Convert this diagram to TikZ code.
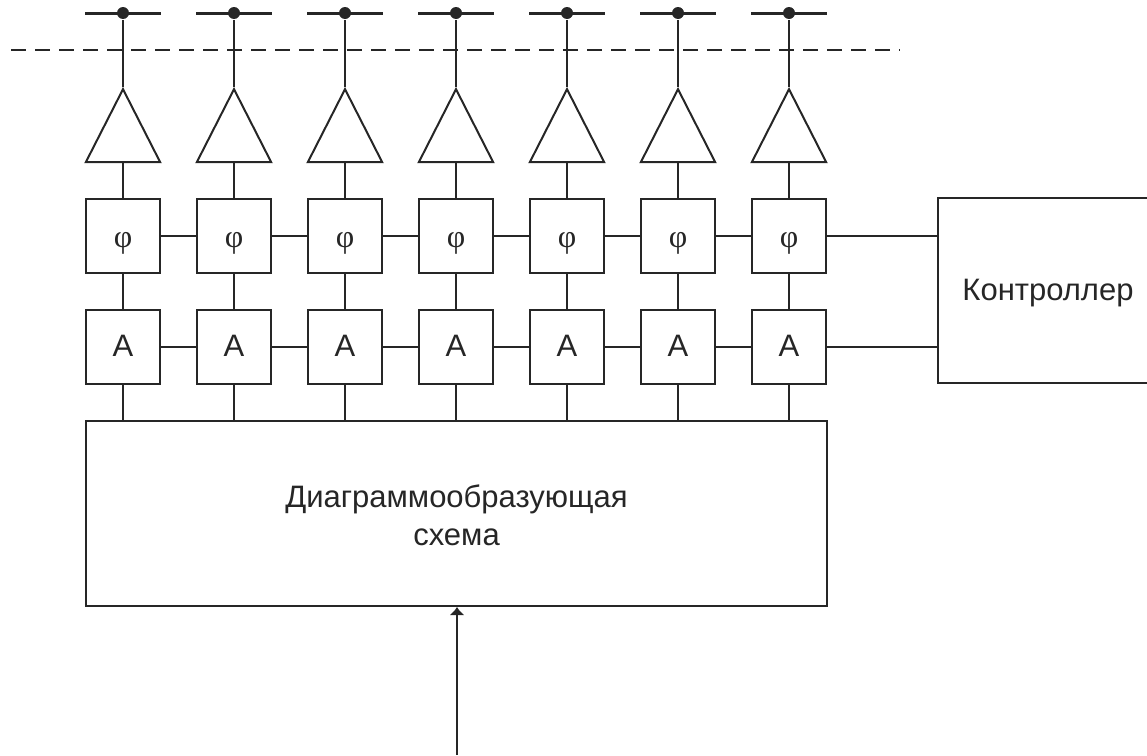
\documentclass[tikz,border=0pt]{standalone}
\usepackage{fontspec}
\setmainfont{Liberation Sans}
\newfontfamily\phifont{Liberation Serif}
\usetikzlibrary{shapes.geometric,arrows.meta}
\begin{document}
\begin{tikzpicture}
[x=1pt,y=-1pt,line width=2pt,color=black!85,inner sep=0pt,
 cell/.style={shape=rectangle,draw,minimum size=74pt,font=\fontsize{31}{31}\selectfont,text height=19pt,text depth=0pt},
 phase/.style={cell,font=\fontsize{32}{32}\phifont,text height=23pt},
 amp/.style={shape=isosceles triangle,draw,shape border rotate=90,isosceles triangle apex angle=54,
   minimum height=73pt,anchor=apex},
 bar/.style={shape=rectangle,fill,minimum width=76pt,minimum height=3pt},
 dot/.style={shape=circle,fill,minimum size=12pt},
 block/.style={shape=rectangle,draw,align=center,font=\fontsize{31}{38}\selectfont}]
\useasboundingbox (0,0) rectangle (1147,755);
\path (123,13) node (b1) [bar] {} node (d1) [dot] {}
(234,13) node (b2) [bar] {} node (d2) [dot] {}
(345,13) node (b3) [bar] {} node (d3) [dot] {}
(456,13) node (b4) [bar] {} node (d4) [dot] {}
(567,13) node (b5) [bar] {} node (d5) [dot] {}
(678,13) node (b6) [bar] {} node (d6) [dot] {}
(789,13) node (b7) [bar] {} node (d7) [dot] {};
\path (123,87) node (t1) [amp] {}
(234,87) node (t2) [amp] {}
(345,87) node (t3) [amp] {}
(456,87) node (t4) [amp] {}
(567,87) node (t5) [amp] {}
(678,87) node (t6) [amp] {}
(789,87) node (t7) [amp] {};
\path (123,235.5) node (p1) [phase] {φ}
(234,235.5) node (p2) [phase] {φ}
(345,235.5) node (p3) [phase] {φ}
(456,235.5) node (p4) [phase] {φ}
(567,235.5) node (p5) [phase] {φ}
(678,235.5) node (p6) [phase] {φ}
(789,235.5) node (p7) [phase] {φ};
\path (123,346.5) node (a1) [cell] {А}
(234,346.5) node (a2) [cell] {А}
(345,346.5) node (a3) [cell] {А}
(456,346.5) node (a4) [cell] {А}
(567,346.5) node (a5) [cell] {А}
(678,346.5) node (a6) [cell] {А}
(789,346.5) node (a7) [cell] {А};
\path (456.5,513.5) node (dia) [block,minimum width=741pt,minimum height=185pt] {\rule{0pt}{27pt}Диаграммообразующая\\схема}
(1048,290.5) node (ctrl) [block,minimum width=220pt,minimum height=185pt,text height=19pt,text depth=0pt] {Контроллер};
\coordinate (dl) at (11,50);
\coordinate (dr) at (900,50);
\coordinate (in) at (457,755);
\draw [dash pattern=on 15pt off 9pt] (dl) -- (dr);
\draw (d1) -- (t1.apex) (t1.south) -- (p1) (p1) -- (a1) (a1) -- (a1 |- dia.north);
\draw (d2) -- (t2.apex) (t2.south) -- (p2) (p2) -- (a2) (a2) -- (a2 |- dia.north);
\draw (d3) -- (t3.apex) (t3.south) -- (p3) (p3) -- (a3) (a3) -- (a3 |- dia.north);
\draw (d4) -- (t4.apex) (t4.south) -- (p4) (p4) -- (a4) (a4) -- (a4 |- dia.north);
\draw (d5) -- (t5.apex) (t5.south) -- (p5) (p5) -- (a5) (a5) -- (a5 |- dia.north);
\draw (d6) -- (t6.apex) (t6.south) -- (p6) (p6) -- (a6) (a6) -- (a6 |- dia.north);
\draw (d7) -- (t7.apex) (t7.south) -- (p7) (p7) -- (a7) (a7) -- (a7 |- dia.north);
\draw (p1) -- (p2);
\draw (p2) -- (p3);
\draw (p3) -- (p4);
\draw (p4) -- (p5);
\draw (p5) -- (p6);
\draw (p6) -- (p7);
\draw (p7.east) -- (p7.east -| ctrl.west);
\draw (a1) -- (a2);
\draw (a2) -- (a3);
\draw (a3) -- (a4);
\draw (a4) -- (a5);
\draw (a5) -- (a6);
\draw (a6) -- (a7);
\draw (a7.east) -- (a7.east -| ctrl.west);
\draw [-{Latex[length=8pt,width=15pt]}] (in) -- (in |- dia.south);
\end{tikzpicture}
\end{document}
